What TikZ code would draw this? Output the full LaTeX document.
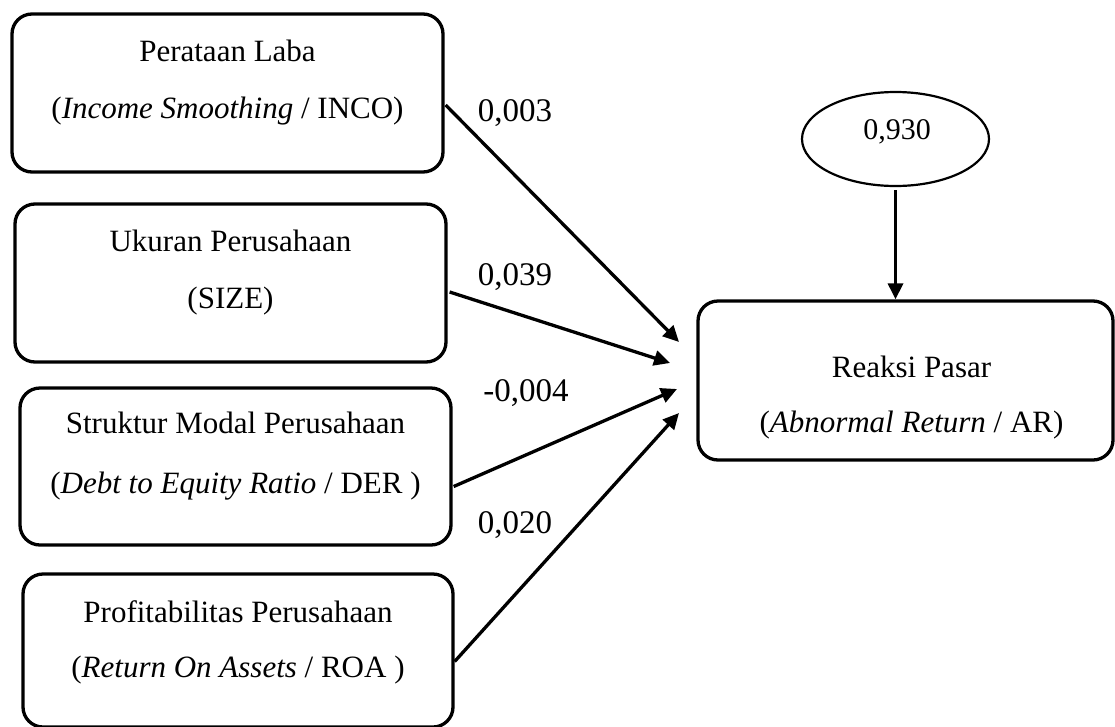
\documentclass[tikz,border=0pt]{standalone}
\usepackage{fontspec}
\setmainfont{Liberation Serif}
\usetikzlibrary{arrows.meta,shapes.geometric,calc}
\begin{document}
\begin{tikzpicture}[x=1pt,y=-1pt,
  box/.style={draw, line width=3.3pt, rounded corners=20pt, inner sep=0pt},
  btxt/.style={anchor=base, inner sep=0pt, font=\fontsize{31}{37}\selectfont},
  coef/.style={inner sep=0pt, font=\fontsize{33}{38}\selectfont},
  conn/.style={line width=3.3pt, -{Triangle[length=16pt,width=15pt]}}]
\useasboundingbox (0,0) rectangle (1115,726);
% boxes
\node[box, minimum width=431pt, minimum height=158pt] (b1) at (227.5,93) {};
\node[box, minimum width=431pt, minimum height=158pt] (b2) at (230.5,283) {};
\node[box, minimum width=431pt, minimum height=157pt] (b3) at (235.5,466.5) {};
\node[box, minimum width=430pt, minimum height=153pt] (b4) at (238,650.5) {};
\node[box, minimum width=415pt, minimum height=159pt] (rb) at (905.5,380.5) {};
\node[draw, line width=2.2pt, ellipse, minimum width=187pt, minimum height=94pt, inner sep=0pt] (e) at (895.5,139) {};
% texts
\node[btxt] (b1a) at ($(b1.north)+(0,49)$) {Perataan Laba};
\node[btxt] (b1b) at ($(b1.north)+(0,106)$) {(\textit{Income Smoothing} / INCO)};
\node[btxt] (b2a) at ($(b2.north)+(0,49)$) {Ukuran Perusahaan};
\node[btxt] (b2b) at ($(b2.north)+(0,106)$) {(SIZE)};
\node[btxt] (b3a) at ($(b3.north)+(0,47)$) {Struktur Modal Perusahaan};
\node[btxt] (b3b) at ($(b3.north)+(0,107)$) {(\textit{Debt to Equity Ratio} / DER )};
\node[btxt] (b4a) at ($(b4.north)+(0,50)$) {Profitabilitas Perusahaan};
\node[btxt] (b4b) at ($(b4.north)+(0,105)$) {(\textit{Return On Assets} / ROA )};
\node[btxt] (rba) at ($(rb.north)+(6,78)$) {Reaksi Pasar};
\node[btxt] (rbb) at ($(rb.north)+(6,133)$) {(\textit{Abnormal Return} / AR)};
\node[inner sep=0pt, font=\fontsize{30}{36}\selectfont] (et) at (897,132) {0,930};
% coefficients
\node[coef] (c1) at (515,113) {0,003};
\node[coef] (c2) at (515,277) {0,039};
\node[coef] (c3) at (526,393) {-0,004};
\node[coef] (c4) at (515,525) {0,020};
% arrow ends
\coordinate (t1) at (679,342);
\coordinate (t2) at (670,363);
\coordinate (t3) at (677,389);
\coordinate (t4) at (679,413);
\draw[conn] ($(b1.east)+(1,12)$) -- (t1);
\draw[conn] ($(b2.east)+(2,9)$) -- (t2);
\draw[conn] ($(b3.east)+(1,20)$) -- (t3);
\draw[conn] ($(b4.east)+(0,11)$) -- (t4);
\draw[conn, shorten <=3pt] (e.south) -- (e.south |- rb.north);
\end{tikzpicture}
\end{document}
